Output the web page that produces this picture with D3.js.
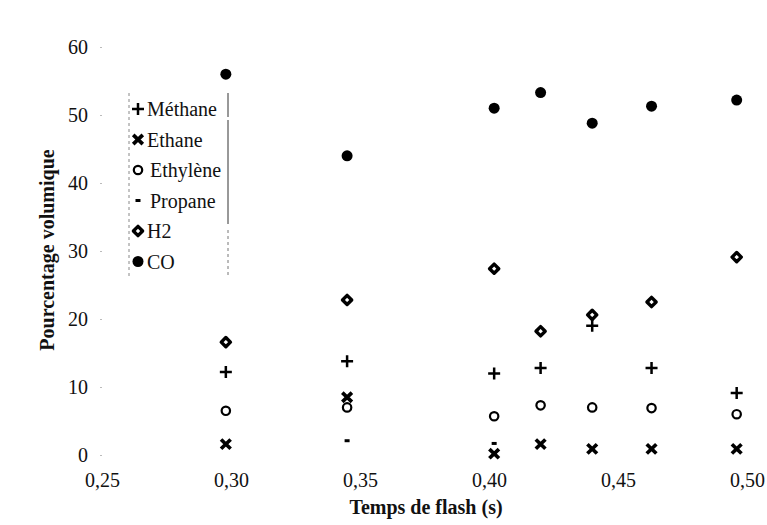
<!DOCTYPE html>
<html>
<head>
<meta charset="utf-8">
<script src="https://cdn.jsdelivr.net/npm/d3@7"></script>
<style>
  body { margin: 0; background: #fff; }
  svg text { font-family: "Liberation Serif", "DejaVu Serif", "Times New Roman", Times, serif; fill: #111; }
</style>
</head>
<body>
<div id="chart"></div>
<script>
// flash times (s) of each run
var times = [0.298, 0.345, 0.402, 0.42, 0.44, 0.463, 0.496];

// volume percentage of each gas, null = not measured
var methane  = [12.2, 13.8, 12.0, 12.8, 19.0, 12.8, 9.1];
var ethane   = [1.6, 8.5, 0.2, 1.6, 0.9, 0.9, 0.9];
var ethylene = [6.5, 7.0, 5.7, 7.3, 7.0, 6.9, 6.0];
var propane  = [null, 2.1, 1.7, null, null, null, null];
var h2       = [16.6, 22.8, 27.4, 18.2, 20.6, 22.5, 29.1];
var co       = [56.0, 44.0, 51.0, 53.3, 48.8, 51.3, 52.2];

var xTicks = [0.25, 0.30, 0.35, 0.40, 0.45, 0.50];
var yTicks = [0, 10, 20, 30, 40, 50, 60];

var series = [
    {name: "Méthane",  kind: "plus",    values: methane},
    {name: "Ethane",   kind: "cross",   values: ethane},
    {name: "Ethylène", kind: "ring",    values: ethylene},
    {name: "Propane",  kind: "dash",    values: propane},
    {name: "H2",       kind: "diamond", values: h2},
    {name: "CO",       kind: "dot",     values: co}
];

var width = 767, height = 525;
var serif = "'Liberation Serif', 'DejaVu Serif', 'Times New Roman', Times, serif";

var svg = d3.select("#chart").append("svg")
    .attr("width", width)
    .attr("height", height)
    .attr("font-family", serif);

var x = d3.scaleLinear().domain([0.25, 0.50]).range([102, 747]);
var y = d3.scaleLinear().domain([0, 60]).range([455, 47]);

var fr = d3.formatLocale({decimal: ",", thousands: " ", grouping: [3], currency: ["", "€"]});

// y axis: no line, just labels and faint tick dots
var yAxis = svg.append("g")
    .attr("transform", "translate(102,0)")
    .call(d3.axisLeft(y).tickValues(yTicks).tickSize(2).tickPadding(12));
yAxis.attr("font-family", serif).attr("font-size", 20);
yAxis.select(".domain").remove();
yAxis.selectAll(".tick line").attr("stroke", "#bbb");
yAxis.selectAll(".tick text").attr("fill", "#111");

var xAxis = svg.append("g")
    .attr("transform", "translate(0,455)")
    .call(d3.axisBottom(x).tickValues(xTicks).tickSize(0).tickPadding(18).tickFormat(fr.format(".2f")));
xAxis.attr("font-family", serif).attr("font-size", 20);
xAxis.select(".domain").remove();
xAxis.selectAll(".tick text").attr("fill", "#111");

svg.append("text")
    .attr("x", 426).attr("y", 514)
    .attr("text-anchor", "middle")
    .attr("font-size", 20).attr("font-weight", "bold")
    .text("Temps de flash (s)");

svg.append("text")
    .attr("transform", "translate(54,250) rotate(-90)")
    .attr("text-anchor", "middle")
    .attr("font-size", 20).attr("font-weight", "bold")
    .text("Pourcentage volumique");

// draws one marker of the given kind into selection g (centred at 0,0)
function drawMarker(g, kind)
{
    if (kind == "plus") {
        g.append("path").attr("d", "M-6,0H6M0,-6V6")
            .attr("stroke", "#000").attr("stroke-width", 2.5).attr("fill", "none");
    }
    else if (kind == "cross") {
        g.append("path").attr("d", "M-4.8,-4.6L4.8,4.6M4.8,-4.6L-4.8,4.6")
            .attr("stroke", "#000").attr("stroke-width", 3.7).attr("fill", "none");
    }
    else if (kind == "ring") {
        g.append("circle").attr("r", 4.2)
            .attr("stroke", "#000").attr("stroke-width", 2.2).attr("fill", "none");
    }
    else if (kind == "dash") {
        g.append("rect").attr("x", -2.5).attr("y", -1.5).attr("width", 5).attr("height", 3)
            .attr("fill", "#000");
    }
    else if (kind == "diamond") {
        g.append("path").attr("d", "M0,-4.6L4.6,0L0,4.6L-4.6,0Z")
            .attr("stroke", "#000").attr("stroke-width", 3.4).attr("fill", "#fff")
            .attr("stroke-linejoin", "round");
    }
    else if (kind == "dot") {
        g.append("circle").attr("r", 5.5).attr("fill", "#000");
    }
}

// data marks
series.forEach(function (s) {
    var pts = times.map(function (t, i) { return {t: t, v: s.values[i]}; })
        .filter(function (d) { return d.v != null; });
    svg.append("g").selectAll("g").data(pts).enter().append("g")
        .attr("transform", function (d) { return "translate(" + x(d.t) + "," + y(d.v) + ")"; })
        .each(function () { drawMarker(d3.select(this), s.kind); });
});

// legend with the faint, broken vertical borders of the original
var legend = svg.append("g");
legend.append("line").attr("x1", 129).attr("x2", 129).attr("y1", 93).attr("y2", 276)
    .attr("stroke", "#888").attr("stroke-width", 1).attr("stroke-dasharray", "3,3");
legend.append("line").attr("x1", 228).attr("x2", 228).attr("y1", 93).attr("y2", 224)
    .attr("stroke", "#333").attr("stroke-width", 1).attr("stroke-dasharray", "24,3,104");
legend.append("line").attr("x1", 228).attr("x2", 228).attr("y1", 230).attr("y2", 276)
    .attr("stroke", "#777").attr("stroke-width", 1).attr("stroke-dasharray", "3,3");

var item = legend.selectAll(".item").data(series).enter().append("g")
    .attr("class", "item")
    .attr("transform", function (d, i) { return "translate(138," + (109 + i * 30.5) + ")"; });
item.append("g").each(function (d) { drawMarker(d3.select(this), d.kind); });
item.append("text")
    .attr("x", function (d) { return d.kind == "ring" || d.kind == "dash" ? 12 : 9; })
    .attr("y", 7)
    .attr("font-size", 20)
    .text(function (d) { return d.name; });
</script>
</body>
</html>
